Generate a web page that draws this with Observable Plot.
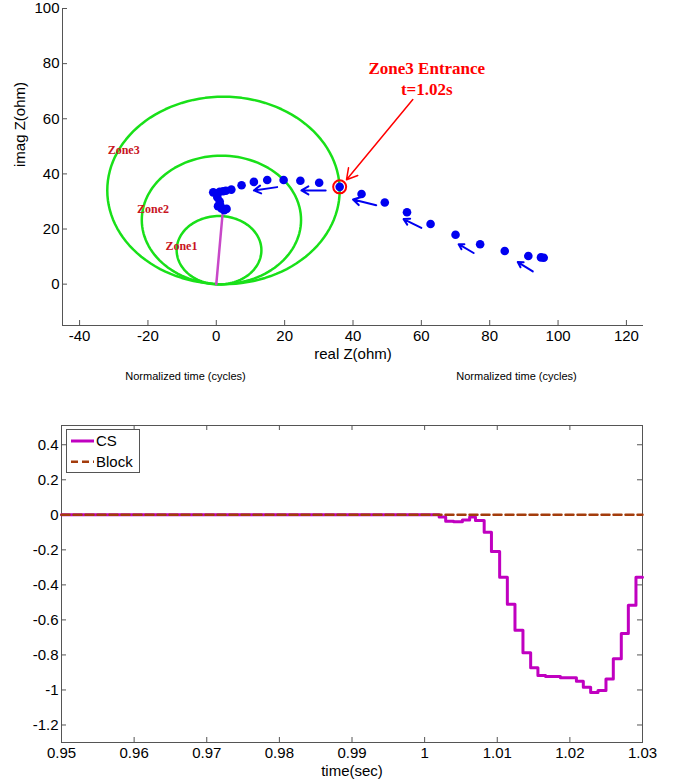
<!DOCTYPE html>
<html>
<head>
<meta charset="utf-8">
<script src="https://cdn.jsdelivr.net/npm/d3@7"></script>
<script src="https://cdn.jsdelivr.net/npm/@observablehq/plot@0.6"></script>
<style>
  body { margin: 0; background: #fff; font-family: "Liberation Sans", Arial, sans-serif; }
  #wrap { position: relative; width: 680px; height: 783px; overflow: hidden; }
  #topPanel { position: absolute; left: 0; top: 0; }
  #botPanel { position: absolute; left: 0; top: 395px; }
  #legend { position: absolute; left: 66px; top: 429px; width: 74px; height: 44px; }
</style>
</head>
<body>
<div id="wrap">
  <div id="topPanel"></div>
  <div id="botPanel"></div>
  <div id="legend"></div>
</div>
<script>
// ---------- Top panel data (impedance plane) ----------
const zoneNames   = ["Zone1", "Zone2", "Zone3"];
const zoneCenterX = [0.8, 1.5, 2.1];
const zoneCenterY = [12.3, 23.3, 34.0];
const zoneRadius  = [12.4, 23.3, 34.0];
const zoneLabelX  = [-10.2, -18.5, -27.1];
const zoneLabelY  = [13.7, 27.3, 48.7];

const lineImpX = [0, 1.8];
const lineImpY = [0, 25];

const impX = [-0.9, 0.2, 1.0, 2.0, 2.8, 4.4, 0.3, 1.0, 0.5, 1.5, 2.3, 3.0, 1.2,
              7.4, 11.0, 14.9, 19.7, 24.6, 30.1, 36.1, 42.5, 49.3, 55.8, 62.7, 70.0, 77.2, 84.4, 91.3, 95.0, 95.8];
const impY = [33.3, 33.0, 33.5, 33.7, 33.9, 34.3, 31.5, 30.0, 28.3, 27.5, 26.8, 27.3, 28.5,
              35.9, 37.1, 37.8, 37.8, 37.5, 36.8, 35.3, 32.7, 29.6, 26.1, 21.8, 17.9, 14.5, 12.0, 10.2, 9.7, 9.6];

const arrowX1 = [92.6, 75.3, 60.0, 46.8, 32.0, 17.8];
const arrowY1 = [4.6, 11.3, 20.4, 28.6, 34.0, 35.2];
const arrowX2 = [88.2, 70.9, 54.8, 40.0, 24.9, 11.0];
const arrowY2 = [8.0, 14.5, 23.6, 30.7, 34.0, 34.0];

const entranceX = [36.1];
const entranceY = [35.3];
const noteArrowX1 = [57.5], noteArrowY1 = [67.0], noteArrowX2 = [38.1], noteArrowY2 = [37.9];
const noteText = ["Zone3 Entrance", "t=1.02s"];
const noteX = [61.6, 61.6];
const noteY = [78.2, 70.7];

const topXTicks = [-40, -20, 0, 20, 40, 60, 80, 100, 120];
const topYTicks = [0, 20, 40, 60, 80, 100];

// ---------- Bottom panel data ----------
const csTime  = [0.95, 1.0020, 1.0029, 1.0040, 1.0052, 1.0062, 1.0070, 1.0082, 1.0092, 1.01033, 1.01139, 1.01244,
                 1.01354, 1.0146, 1.0156, 1.01666, 1.0187, 1.0209, 1.02185, 1.02286, 1.02387, 1.02497, 1.02598,
                 1.02708, 1.02805, 1.0291, 1.03];
const csValue = [0, -0.013, -0.036, -0.04, -0.029, -0.013, -0.033, -0.10, -0.21, -0.357, -0.51, -0.659,
                 -0.787, -0.873, -0.917, -0.923, -0.93, -0.95, -0.984, -1.015, -1.003, -0.937, -0.822,
                 -0.678, -0.516, -0.357, -0.357];
const blockTime  = [0.95, 1.03];
const blockValue = [0, 0];

const botXTicks = [0.95, 0.96, 0.97, 0.98, 0.99, 1.00, 1.01, 1.02, 1.03];
const botYTicks = [0.4, 0.2, 0, -0.2, -0.4, -0.6, -0.8, -1, -1.2];

// ---------- Styles ----------
const axisColor = "#555";
const green = "#19e019";
const blue = "#0000f0";
const magentaLine = "#c848c8";
const csColor = "#c000c0";
const blockColor = "#a33c0c";
const zoneLabelColor = "#c8141e";
const fmt = d => String(Math.round(d * 1000) / 1000);

// build tables
const circlePts = [];
zoneNames.forEach((z, i) => {
  d3.range(0, 361, 3).forEach(a => {
    const t = a * Math.PI / 180;
    circlePts.push({zone: z, x: zoneCenterX[i] + zoneRadius[i] * Math.cos(t), y: zoneCenterY[i] + zoneRadius[i] * Math.sin(t)});
  });
});
const zoneLabels = zoneNames.map((z, i) => ({z, x: zoneLabelX[i], y: zoneLabelY[i]}));
const imp = impX.map((x, i) => ({x, y: impY[i]}));
const arrows = arrowX1.map((x1, i) => ({x1, y1: arrowY1[i], x2: arrowX2[i], y2: arrowY2[i]}));
const imLine = lineImpX.map((x, i) => ({x, y: lineImpY[i]}));
const entrance = entranceX.map((x, i) => ({x, y: entranceY[i]}));
const noteArrow = noteArrowX1.map((x1, i) => ({x1, y1: noteArrowY1[i], x2: noteArrowX2[i], y2: noteArrowY2[i]}));
const notes = noteText.map((t, i) => ({t, x: noteX[i], y: noteY[i]}));

const W = 680;
// ---------- Top plot ----------
const tH = 390, tML = 62, tMR = 37, tMT = 8, tMB = 65;
const tFW = W - tML - tMR, tFH = tH - tMT - tMB;
const topChart = Plot.plot({
  width: W, height: tH,
  marginLeft: tML, marginRight: tMR, marginTop: tMT, marginBottom: tMB,
  x: {domain: [-45, 125]},
  y: {domain: [-15, 100]},
  style: {fontFamily: "'Liberation Sans', Arial, sans-serif", fontSize: "15px", color: "#000", background: "transparent", overflow: "visible"},
  marks: [
    Plot.ruleX([-45], {stroke: axisColor}),
    Plot.ruleY([-15], {stroke: axisColor}),
    Plot.tickX(topXTicks, {x: d => d, insetTop: tFH - 5, stroke: axisColor}),
    Plot.tickY(topYTicks, {y: d => d, insetRight: tFW - 5, stroke: axisColor}),
    Plot.axisX(topXTicks, {tickSize: 0, tickPadding: 5, tickFormat: fmt, label: null, fill: "#000"}),
    Plot.axisY(topYTicks, {tickSize: 0, tickPadding: 3, tickFormat: fmt, label: null, fill: "#000"}),
    Plot.text(["real Z(ohm)"], {frameAnchor: "bottom", lineAnchor: "middle", dy: 29, fontSize: 15, fill: "#000"}),
    Plot.text(["imag Z(ohm)"], {frameAnchor: "left", lineAnchor: "middle", dx: -42, rotate: -90, fontSize: 15, fill: "#000"}),
    Plot.text(["Normalized time (cycles)"], {frameAnchor: "bottom-left", lineAnchor: "middle", dx: 123, dy: 51, textAnchor: "middle", fontSize: 11, fill: "#000"}),
    Plot.text(["Normalized time (cycles)"], {frameAnchor: "bottom-right", lineAnchor: "middle", dx: -127, dy: 51, textAnchor: "middle", fontSize: 11, fill: "#000"}),
    Plot.line(circlePts, {x: "x", y: "y", z: "zone", stroke: green, strokeWidth: 2.5}),
    Plot.line(imLine, {x: "x", y: "y", stroke: magentaLine, strokeWidth: 2.5}),
    Plot.text(zoneLabels, {x: "x", y: "y", text: "z", fontFamily: "'Liberation Serif', 'Times New Roman', serif", fontWeight: "bold", fontSize: 12, fill: zoneLabelColor}),
    Plot.dot(imp, {x: "x", y: "y", r: 4.3, fill: blue}),
    Plot.arrow(arrows, {x1: "x1", y1: "y1", x2: "x2", y2: "y2", stroke: blue, strokeWidth: 2, headLength: 8}),
    Plot.dot(entrance, {x: "x", y: "y", r: 6.5, stroke: "#ff0000", strokeWidth: 2, fill: "none"}),
    Plot.arrow(noteArrow, {x1: "x1", y1: "y1", x2: "x2", y2: "y2", stroke: "#ff0000", strokeWidth: 1.5, headLength: 12}),
    Plot.text(notes, {x: "x", y: "y", text: "t", fontFamily: "'Liberation Serif', 'Times New Roman', serif", fontWeight: "bold", fontSize: 17, fill: "#ff0000"})
  ]
});
document.getElementById("topPanel").appendChild(topChart);

// ---------- Bottom plot ----------
const bH = 388, bML = 61, bMR = 38, bMT = 30, bMB = 41;
const bFW = W - bML - bMR, bFH = bH - bMT - bMB;
const cs = csTime.map((t, i) => ({t, v: csValue[i]}));
const block = blockTime.map((t, i) => ({t, v: blockValue[i]}));
const botChart = Plot.plot({
  width: W, height: bH,
  marginLeft: bML, marginRight: bMR, marginTop: bMT, marginBottom: bMB,
  x: {domain: [0.95, 1.03]},
  y: {domain: [-1.3, 0.51]},
  style: {fontFamily: "'Liberation Sans', Arial, sans-serif", fontSize: "15px", color: "#000", background: "transparent", overflow: "visible"},
  marks: [
    Plot.frame({stroke: axisColor}),
    Plot.tickX(botXTicks, {x: d => d, insetTop: bFH - 5, stroke: axisColor}),
    Plot.tickX(botXTicks, {x: d => d, insetBottom: bFH - 5, stroke: axisColor}),
    Plot.tickY(botYTicks, {y: d => d, insetRight: bFW - 5, stroke: axisColor}),
    Plot.tickY(botYTicks, {y: d => d, insetLeft: bFW - 5, stroke: axisColor}),
    Plot.axisX(botXTicks, {tickSize: 0, tickPadding: 5, tickFormat: fmt, label: null, fill: "#000"}),
    Plot.axisY(botYTicks, {tickSize: 0, tickPadding: 3, tickFormat: fmt, label: null, fill: "#000"}),
    Plot.text(["time(sec)"], {frameAnchor: "bottom", lineAnchor: "middle", dy: 29, fontSize: 15, fill: "#000"}),
    Plot.line(cs, {x: "t", y: "v", curve: "step-after", stroke: csColor, strokeWidth: 3}),
    Plot.line(block, {x: "t", y: "v", stroke: blockColor, strokeWidth: 2.5, strokeDasharray: "8,4"})
  ]
});
document.getElementById("botPanel").appendChild(botChart);

// ---------- Legend ----------
const legendItems = ["CS", "Block"];
const legendColors = [csColor, blockColor];
const legendDash = [null, "7,4"];
const lg = d3.select("#legend").append("svg").attr("width", 74).attr("height", 44)
  .style("font-family", "'Liberation Sans', Arial, sans-serif").style("font-size", "15px");
lg.append("rect").attr("x", 0.5).attr("y", 0.5).attr("width", 73).attr("height", 43)
  .attr("fill", "#fff").attr("stroke", axisColor);
legendItems.forEach((name, i) => {
  const yy = 12 + i * 20.7;
  lg.append("line").attr("x1", 5).attr("x2", 28).attr("y1", yy).attr("y2", yy)
    .attr("stroke", legendColors[i]).attr("stroke-width", i === 0 ? 3 : 2.5)
    .attr("stroke-dasharray", legendDash[i]);
  lg.append("text").attr("x", 30).attr("y", yy).attr("dy", "0.35em").attr("fill", "#000").text(name);
});
</script>
</body>
</html>
